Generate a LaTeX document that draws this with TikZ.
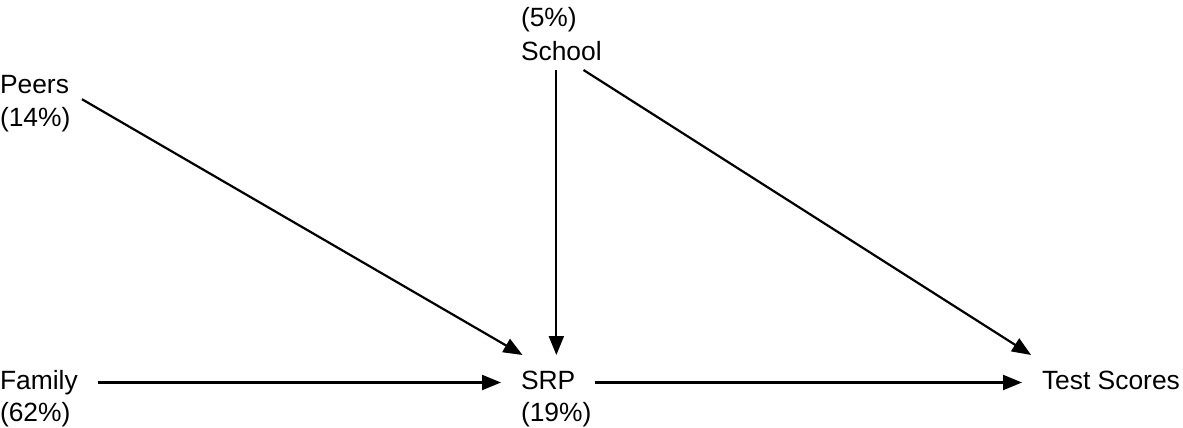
\documentclass[tikz,border=0pt]{standalone}
\usepackage{fontspec}
\setmainfont{Liberation Sans}
\usepackage{tikz}
\usetikzlibrary{arrows.meta}
\tikzset{
  factor/.style={
    font=\fontsize{13.2}{15}\selectfont,
    inner sep=0pt,
    outer xsep=10pt,
    outer ysep=7.5pt,
    text height=9.5pt,
    text depth=3pt,
    anchor=text
  },
  share/.style={
    font=\fontsize{13.2}{15}\selectfont,
    inner sep=0pt,
    anchor=text
  },
  effect/.style={
    -{Triangle[length=9.5pt,width=7.5pt]},
    line width=1.1pt,
    draw=black
  }
}
\begin{document}
\begin{tikzpicture}[x=0.5pt,y=-0.5pt]
  \useasboundingbox (0,0) rectangle (1183,428);

  % variables
  \node[factor, outer xsep=6.5pt] (peers) at (0,93) {Peers};
  \node[share] (peersshare) at (0,126) {(14\%)};
  \node[factor, outer ysep=1.5pt] (school) at (521,61) {School};
  \node[share] (schoolshare) at (521,26) {(5\%)};
  \node[factor] (family) at (0,389) {Family};
  \node[share] (familyshare) at (0,421) {(62\%)};
  \node[factor] (srp) at (521,389) {SRP};
  \node[share] (srpshare) at (521,421) {(19\%)};
  \node[factor] (scores) at (1042,389) {Test Scores};

  % paths
  \draw[effect] (family) -- (srp);
  \draw[effect] (srp) -- (scores);
  \draw[effect] (peers.-15) -- (srp.133);
  \draw[effect] ([xshift=-2.5pt]school.south) -- ([xshift=-2.5pt]school.south |- srp.north);
  \draw[effect] (school.-35) -- (scores.161);
\end{tikzpicture}
\end{document}
